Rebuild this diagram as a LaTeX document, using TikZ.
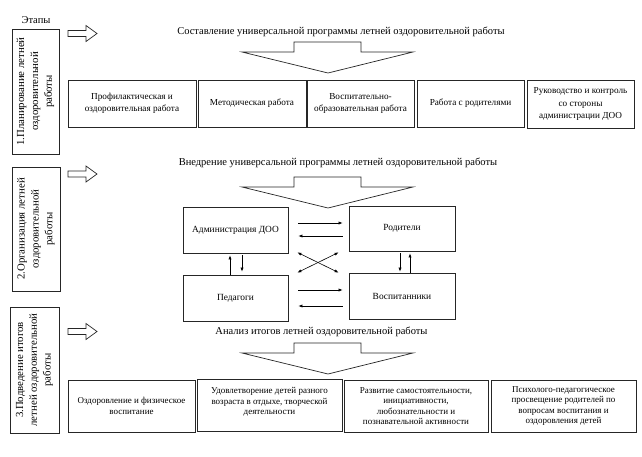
\documentclass[tikz,border=0pt]{standalone}
\usepackage{fontspec}
\setmainfont{Liberation Serif}
\usetikzlibrary{arrows.meta}
\begin{document}
\begin{tikzpicture}[x=1pt,y=-1pt,
  box/.style={draw=black!85,line width=0.8pt,rectangle,inner sep=1pt,align=center,
    font=\fontsize{9.2}{12.5}\selectfont},
  lowbox/.style={box,font=\fontsize{9}{10.6}\selectfont},
  midbox/.style={box,font=\fontsize{9.4}{11}\selectfont},
  stagebox/.style={draw=black!85,line width=0.8pt,rectangle,rotate=90,inner sep=1pt,align=center,
    font=\fontsize{10.8}{13.8}\selectfont},
  titletext/.style={inner sep=0pt,font=\fontsize{10.5}{12}\selectfont},
  hollow/.style={draw=black!85,line width=0.7pt,fill=white,line join=miter},
  arr/.style={draw=black,line width=0.6pt,-{Latex[length=4pt,width=3.2pt]}},
  darr/.style={draw=black,line width=0.6pt,{Latex[length=4pt,width=3.2pt]}-{Latex[length=4pt,width=3.2pt]}}
]
\useasboundingbox[fill=white] (0,0) rectangle (642,456);

% stage column
\node[inner sep=0pt,font=\fontsize{10.5}{12}\selectfont] (etapy) at (36,20) {Этапы};
\node[stagebox,minimum width=125pt,minimum height=47pt] (s1) at (35.5,91.5)
  {1.Планирование летней\\оздоровительной\\работы};
\node[stagebox,minimum width=124pt,minimum height=48pt] (s2) at (36,229)
  {2.Организация летней\\оздоровительной\\работы};
\node[stagebox,minimum width=126pt,minimum height=49pt] (s3) at (34.5,370)
  {3.Подведение итогов\\летней оздоровительной\\работы};

% hollow right arrows
\foreach \yc in {33.5,174,331.5}{
  \draw[hollow] (68,\yc-3) -- (86,\yc-3) -- (86,\yc-8) -- (97,\yc) -- (86,\yc+8)
    -- (86,\yc+3) -- (68,\yc+3) -- cycle;
}

% titles
\node[titletext] (t1) at (341,32) {Составление универсальной программы летней оздоровительной работы};
\node[titletext] (t2) at (338,163) {Внедрение универсальной программы летней оздоровительной работы};
\node[titletext] (t3) at (321.5,332) {Анализ итогов летней оздоровительной работы};

% big down arrows
\foreach \yt in {42,177,343}{
  \draw[hollow] (242,\yt+10) -- (294,\yt+10) -- (294,\yt) -- (361,\yt) -- (361,\yt+10)
    -- (413,\yt+10) -- (328,\yt+31) -- cycle;
}

% row 1
\node[box,minimum width=128pt,minimum height=47pt] (b1) at (132,103.5)
  {Профилактическая и\\оздоровительная работа};
\node[box,minimum width=108pt,minimum height=47pt] (b2) at (252,103.5)
  {Методическая работа};
\node[box,minimum width=107pt,minimum height=47pt] (b3) at (360.5,103.5)
  {Воспитательно-\\образовательная работа};
\node[box,minimum width=107pt,minimum height=47pt] (b4) at (470.5,103.5)
  {Работа с родителями};
\node[box,minimum width=107pt,minimum height=48pt] (b5) at (580.5,104)
  {Руководство и контроль\\со стороны\\администрации ДОО};

% middle
\node[midbox,minimum width=105pt,minimum height=46pt] (adm) at (235.5,230) {Администрация ДОО};
\node[midbox,minimum width=106pt,minimum height=45pt] (rod) at (402,228.5) {Родители};
\node[midbox,minimum width=105pt,minimum height=46pt] (ped) at (235.5,298) {Педагоги};
\node[midbox,minimum width=106pt,minimum height=46pt] (vos) at (402,296) {Воспитанники};

\draw[arr] ([shift={(10,-7)}]adm.east) -- ([shift={(-6,-5.5)}]rod.west);
\draw[arr] ([shift={(-6,7.5)}]rod.west) -- ([shift={(10,6)}]adm.east);
\draw[darr] ([shift={(9,-1)}]adm.south east) -- ([shift={(-10,0)}]vos.north west);
\draw[darr] ([shift={(9,-2)}]ped.north east) -- ([shift={(-10,1)}]rod.south west);
\draw[arr] ([shift={(-5.5,0)}]ped.north) -- ([shift={(-5.5,2)}]adm.south);
\draw[arr] ([shift={(6.5,2)}]adm.south) -- ([shift={(6.5,-3)}]ped.north);
\draw[arr] ([shift={(-2,2)}]rod.south) -- ([shift={(-2,-1)}]vos.north);
\draw[arr] ([shift={(8,0)}]vos.north) -- ([shift={(8,2)}]rod.south);
\draw[arr] ([shift={(10,-8)}]ped.east) -- ([shift={(-6,-6)}]vos.west);
\draw[arr] ([shift={(-6,10)}]vos.west) -- ([shift={(10,8)}]ped.east);

% row 3
\node[lowbox,minimum width=127pt,minimum height=52pt] (c1) at (131.5,406)
  {Оздоровление и физическое\\воспитание};
\node[lowbox,minimum width=145pt,minimum height=52pt] (c2) at (269.5,405)
  {Удовлетворение детей разного\\возраста в отдыхе, творческой\\деятельности\\[-2.5pt]\mbox{}};
\node[lowbox,minimum width=144pt,minimum height=52pt] (c3) at (416,406)
  {Развитие самостоятельности,\\инициативности,\\любознательности и\\познавательной активности};
\node[lowbox,minimum width=145pt,minimum height=52pt] (c4) at (563.5,406)
  {Психолого-педагогическое\\просвещение родителей по\\вопросам воспитания и\\оздоровления детей};
\end{tikzpicture}
\end{document}
